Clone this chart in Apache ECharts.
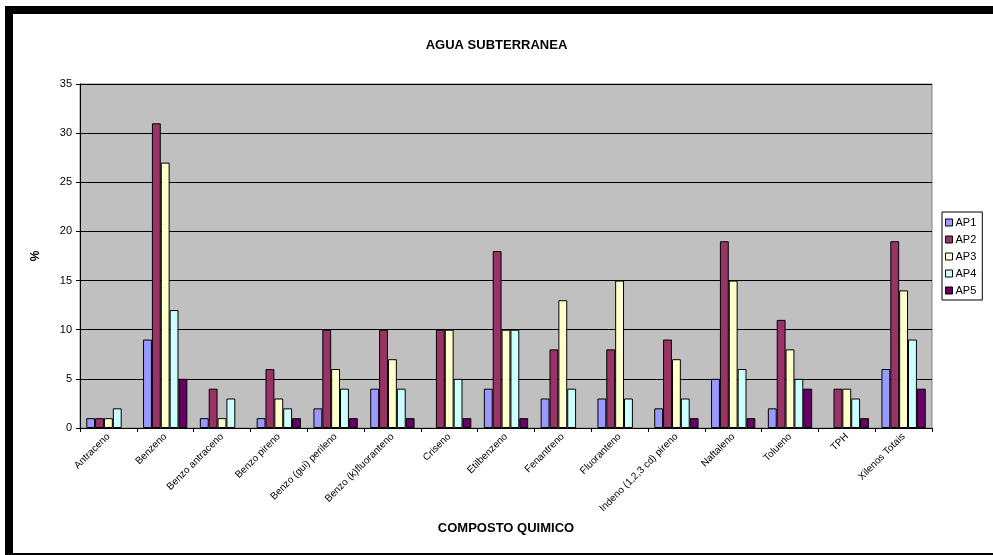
<!DOCTYPE html>
<html>
<head>
<meta charset="utf-8">
<title>AGUA SUBTERRANEA</title>
<script src="https://cdn.jsdelivr.net/npm/echarts@6/dist/echarts.min.js"></script>
<style>
  html, body { margin: 0; padding: 0; background: #ffffff; }
  #chart { width: 993px; height: 555px; }
</style>
</head>
<body>
<div id="chart"></div>
<script>
// Compounds analysed in the groundwater samples
const compostos = [
  'Antraceno', 'Benzeno', 'Benzo antraceno', 'Benzo pireno',
  'Benzo (gui) perileno', 'Benzo (k)fluoranteno', 'Criseno', 'Etilbenzeno',
  'Fenantreno', 'Fluoranteno', 'Indeno (1,2,3 cd) pireno', 'Naftaleno',
  'Tolueno', 'TPH', 'Xilenos Totais'
];

// Percentages per sampling point (0 = not detected, no bar drawn)
const ap1 = [1, 9, 1, 1, 2, 4, 0, 4, 3, 3, 2, 5, 2, 0, 6];
const ap2 = [1, 31, 4, 6, 10, 10, 10, 18, 8, 8, 9, 19, 11, 4, 19];
const ap3 = [1, 27, 1, 3, 6, 7, 10, 10, 13, 15, 7, 15, 8, 4, 14];
const ap4 = [2, 12, 3, 2, 4, 4, 5, 10, 4, 3, 3, 6, 5, 3, 9];
const ap5 = [0, 5, 0, 1, 1, 1, 1, 1, 0, 0, 1, 1, 4, 1, 4];

const yTicks = { min: 0, max: 35, interval: 5 };

const seriesDefs = [
  { name: 'AP1', data: ap1, color: '#9999FF' },
  { name: 'AP2', data: ap2, color: '#993366' },
  { name: 'AP3', data: ap3, color: '#FFFFCC' },
  { name: 'AP4', data: ap4, color: '#CCFFFF' },
  { name: 'AP5', data: ap5, color: '#660066' }
];

const font = 'Arial, "Liberation Sans", sans-serif';

const chart = echarts.init(document.getElementById('chart'), null, { renderer: 'canvas' });

chart.setOption({
  animation: false,
  backgroundColor: '#ffffff',
  title: {
    text: 'AGUA SUBTERRANEA',
    left: 'center',
    top: 34,
    textStyle: { fontFamily: font, fontSize: 13, fontWeight: 'bold', color: '#000' }
  },
  legend: {
    orient: 'vertical',
    left: 942,
    top: 212,
    padding: [4, 6, 3, 3],
    itemGap: 4,
    itemWidth: 7,
    itemHeight: 7,
    icon: 'rect',
    backgroundColor: '#ffffff',
    borderColor: '#000',
    borderWidth: 1,
    textStyle: { fontFamily: font, fontSize: 11, color: '#000', padding: [0, 0, 0, -2], lineHeight: 13 },
    itemStyle: { borderColor: '#000', borderWidth: 1 },
    data: seriesDefs.map(s => s.name)
  },
  grid: {
    left: 80,
    right: 61,
    top: 84,
    bottom: 127,
    show: true,
    backgroundColor: '#C0C0C0',
    borderColor: '#808080',
    borderWidth: 1
  },
  xAxis: {
    type: 'category',
    data: compostos,
    name: 'COMPOSTO QUIMICO',
    nameLocation: 'middle',
    nameGap: 94,
    nameTextStyle: { fontFamily: font, fontSize: 13, fontWeight: 'bold', color: '#000' },
    axisLine: { lineStyle: { color: '#000', width: 1 } },
    axisTick: { show: true, length: 4, lineStyle: { color: '#000' } },
    axisLabel: {
      rotate: 45,
      margin: 7,
      interval: 0,
      fontFamily: font,
      fontSize: 10,
      color: '#000'
    },
    splitLine: { show: false }
  },
  yAxis: {
    type: 'value',
    min: yTicks.min,
    max: yTicks.max,
    interval: yTicks.interval,
    name: '%',
    nameLocation: 'middle',
    nameGap: 38,
    nameRotate: 90,
    nameTextStyle: { fontFamily: font, fontSize: 12, fontWeight: 'bold', color: '#000' },
    axisLine: { show: true, lineStyle: { color: '#000', width: 1 } },
    axisTick: { show: true, length: 4, lineStyle: { color: '#000' } },
    axisLabel: { fontFamily: font, fontSize: 11, color: '#000', margin: 8 },
    splitLine: { show: true, lineStyle: { color: '#000', width: 1 } }
  },
  series: seriesDefs.map(s => ({
    name: s.name,
    type: 'bar',
    barGap: '0%',
    barCategoryGap: '22%',
    data: s.data.map(v => (v === 0 ? null : v)),
    itemStyle: { color: s.color, borderColor: '#000', borderWidth: 1 },
    emphasis: { disabled: true }
  })),
  graphic: [
    // frame around the sheet
    { type: 'rect', shape: { x: 5, y: 6, width: 988, height: 8 }, style: { fill: '#000' }, silent: true },
    { type: 'rect', shape: { x: 5, y: 6, width: 8, height: 549 }, style: { fill: '#000' }, silent: true },
    { type: 'rect', shape: { x: 5, y: 553, width: 988, height: 2 }, style: { fill: '#000' }, silent: true }
  ]
});
</script>
</body>
</html>
